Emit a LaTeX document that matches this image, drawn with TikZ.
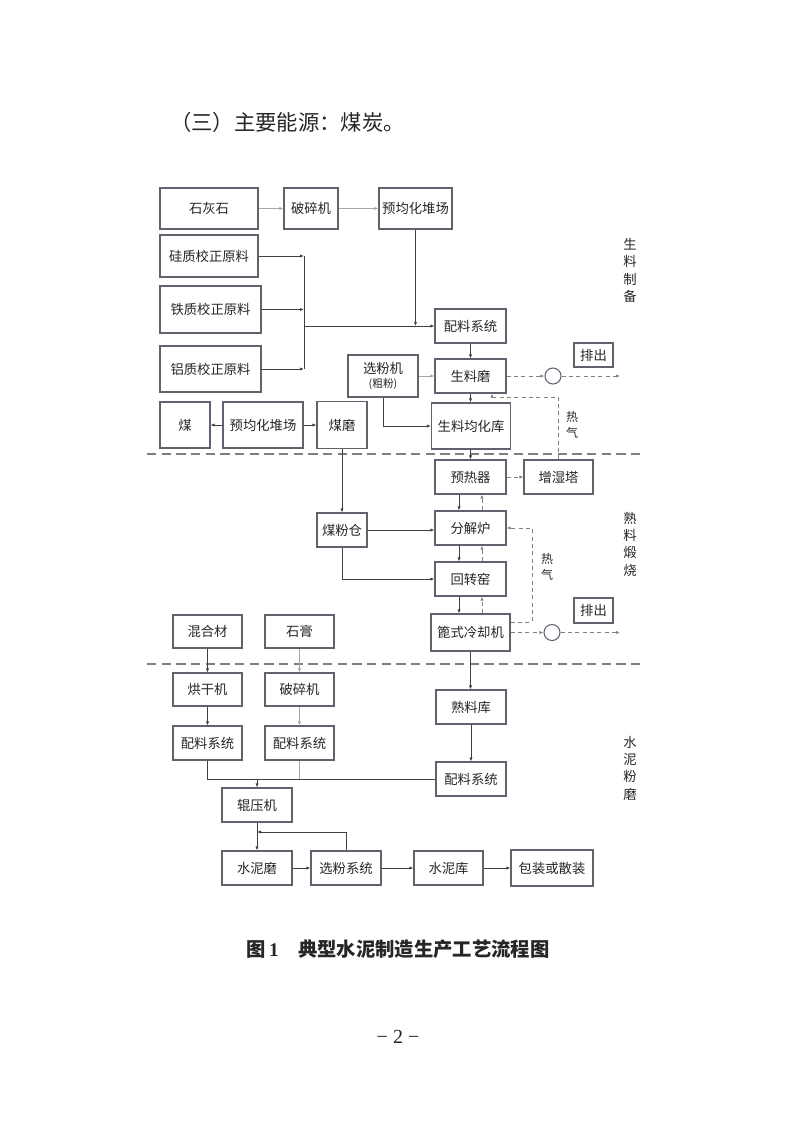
\documentclass[tikz,border=0pt]{standalone}
\usepackage{fontspec}
\setmainfont{Noto Sans CJK SC}
\newfontfamily\numfont{Liberation Serif}
\usetikzlibrary{arrows.meta}
\definecolor{boxc}{HTML}{5E636E}
\definecolor{txt}{HTML}{262626}
\definecolor{linec}{HTML}{404040}
\definecolor{lightc}{HTML}{A6A6A6}
\definecolor{dashc}{HTML}{808080}
\tikzset{
  box/.style={draw=boxc, line width=0.8pt, fill=white, inner sep=0pt, text=txt,
              font=\fontsize{10}{12}\selectfont, align=center},
  sz/.style 2 args={minimum width=#1, minimum height=#2},
  tip/.style={-{Latex[length=3pt,width=2.4pt]}},
  ln/.style={draw=linec, line width=0.7pt},
  arr/.style={ln, tip},
  larr/.style={draw=lightc, line width=0.6pt, tip},
  lln/.style={draw=lightc, line width=0.6pt},
  darr/.style={draw=dashc, line width=0.7pt, dash pattern=on 3pt off 2.5pt, tip},
  dln/.style={draw=dashc, line width=0.7pt, dash pattern=on 3pt off 2.5pt},
  sepline/.style={draw=dashc, line width=0.8pt, dash pattern=on 7pt off 4pt},
  side/.style={text=txt, font=\fontsize{10}{13}\selectfont, align=center, inner sep=0pt},
  gas/.style={text=txt, font=\fontsize{9}{12}\selectfont, align=center, inner sep=0pt},
  ring/.style={circle, draw=boxc, line width=0.8pt, fill=white, minimum size=12pt, inner sep=0pt}
}
\begin{document}
\begin{tikzpicture}[x=0.75pt,y=-0.75pt]
\useasboundingbox[fill=white] (0,0) rectangle (793,1122);

% heading
\node[anchor=west, text=txt, font=\fontsize{16}{16}\selectfont, inner sep=0pt] (head) at (170,122) {（三）主要能源：煤炭。};

% ---------- raw material preparation ----------
\node[box, sz={73.5pt}{30.75pt}] (lime) at (209,208.5) {石灰石};
\node[box, sz={40.5pt}{30.75pt}] (crushA) at (311,208.5) {破碎机};
\node[box, sz={54.75pt}{30.75pt}] (preA) at (415.5,208.5) {预均化堆场};
\node[box, sz={73.5pt}{31.5pt}] (si) at (209,256) {硅质校正原料};
\node[box, sz={75.75pt}{35.25pt}] (fe) at (210.5,309.5) {铁质校正原料};
\node[box, sz={75.75pt}{34.5pt}] (al) at (210.5,369) {铝质校正原料};
\node[box, sz={53.25pt}{25.5pt}] (mixA) at (470.5,326) {配料系统};
\node[box, sz={53.25pt}{25.5pt}] (rawmill) at (470.5,376) {生料磨};
\node[box, sz={52.5pt}{31.5pt}] (sep) at (383,376) {选粉机\\[-1pt]{\fontsize{8}{9}\selectfont (粗粉)}};
\node[box, sz={59.25pt}{34.5pt}] (homo) at (471,426) {生料均化库};
\node[box, sz={37.5pt}{34.5pt}] (coal) at (185,425) {煤};
\node[box, sz={60pt}{34.5pt}] (preB) at (263,425) {预均化堆场};
\node[box, sz={37.5pt}{35.25pt}] (coalmill) at (342,425) {煤磨};
\node[box, sz={29.25pt}{18pt}] (outA) at (593.5,355) {排出};
\node[ring] (ringA) at (553,376) {};
\coordinate (endA) at (620,376);

% ---------- clinker burning ----------
\node[box, sz={53.25pt}{25.5pt}] (preheat) at (470.5,477) {预热器};
\node[box, sz={51.75pt}{25.5pt}] (humid) at (558.5,477) {增湿塔};
\node[box, sz={53.25pt}{25.5pt}] (calc) at (470.5,528) {分解炉};
\node[box, sz={53.25pt}{25.5pt}] (kiln) at (470.5,579) {回转窑};
\node[box, sz={59.25pt}{27.75pt}] (cooler) at (470.5,632.5) {篦式冷却机};
\node[box, sz={37.5pt}{25.5pt}] (cbin) at (342,530) {煤粉仓};
\node[box, sz={29.25pt}{18.75pt}] (outB) at (593.5,610.5) {排出};
\node[ring] (ringB) at (552,632.5) {};
\coordinate (endB) at (620,632.5);

% ---------- cement grinding ----------
\node[box, sz={51.75pt}{24.75pt}] (blend) at (207.5,631.5) {混合材};
\node[box, sz={51.75pt}{24.75pt}] (gyp) at (299.5,631.5) {石膏};
\node[box, sz={51.75pt}{24.75pt}] (dryer) at (207.5,689.5) {烘干机};
\node[box, sz={51.75pt}{24.75pt}] (crushB) at (299.5,689.5) {破碎机};
\node[box, sz={51.75pt}{25.5pt}] (mixL) at (207.5,743) {配料系统};
\node[box, sz={51.75pt}{25.5pt}] (mixM) at (299.5,743) {配料系统};
\node[box, sz={52.5pt}{25.5pt}] (clinker) at (471,707) {熟料库};
\node[box, sz={52.5pt}{25.5pt}] (mixR) at (471,779) {配料系统};
\node[box, sz={52.5pt}{25.5pt}] (roller) at (257,805) {辊压机};
\node[box, sz={52.5pt}{25.5pt}] (cmill) at (257,868) {水泥磨};
\node[box, sz={52.5pt}{25.5pt}] (csep) at (346,868) {选粉系统};
\node[box, sz={51.75pt}{25.5pt}] (csilo) at (448.5,868) {水泥库};
\node[box, sz={61.5pt}{27pt}] (pack) at (552,868) {包装或散装};

% section separators
\coordinate (sA1) at (147,454); \coordinate (sA2) at (645,454);
\coordinate (sB1) at (147,664); \coordinate (sB2) at (645,664);
\draw[sepline] (sA1) -- (sA2);
\draw[sepline] (sB1) -- (sB2);

% side labels
\node[side] (labA) at (630,270.5) {生\\料\\制\\备};
\node[side] (labB) at (630,544) {熟\\料\\煅\\烧};
\node[side] (labC) at (630,768) {水\\泥\\粉\\磨};

% ---------- connectors: raw ----------
\draw[larr] (lime) -- (crushA);
\draw[larr] (crushA) -- (preA);
\coordinate (jv1) at (304,256);
\coordinate (jv2) at (304,309.5);
\coordinate (jv3) at (304,369);
\coordinate (jm) at (304,326);
\coordinate (jp) at (415.5,326);
\draw[arr] (si.east) -- (jv1);
\draw[arr] (fe.east) -- (jv2);
\draw[arr] (al.east) -- (jv3);
\draw[ln] (jv1) -- (jv3);
\draw[arr] (jm) -- (mixA.west);
\draw[arr] (preA.south) -- (jp);
\draw[arr] (mixA) -- (rawmill);
\draw[arr] (rawmill.south) -- (rawmill.south |- homo.north);
\draw[larr] (sep) -- (rawmill);
\draw[arr] (sep.south) |- (homo.west);
\draw[arr] (preB) -- (coal);
\draw[arr] (preB) -- (coalmill);
\draw[darr] (rawmill) -- (ringA);
\draw[darr] (ringA) -- (endA);
\coordinate (hA) at (492,397);
\draw[darr] (humid.north) |- (hA) -- (hA |- rawmill.south);
\node[gas] (gasA) at (572,425) {热\\气};

% ---------- connectors: clinker ----------
\draw[arr] (homo.south -| preheat) -- (preheat.north);
\draw[darr] (preheat) -- (humid);
\draw[arr] (coalmill) -- (cbin);
\draw[arr] (cbin.east) -- (cbin.east -| calc.west);
\draw[arr] (cbin.south) |- (kiln.west);
\draw[arr] ([xshift=-8.6pt]preheat.south) -- ([xshift=-8.6pt]calc.north);
\draw[darr] ([xshift=8.6pt]calc.north) -- ([xshift=8.6pt]preheat.south);
\draw[arr] ([xshift=-8.6pt]calc.south) -- ([xshift=-8.6pt]kiln.north);
\draw[darr] ([xshift=8.6pt]kiln.north) -- ([xshift=8.6pt]calc.south);
\draw[arr] ([xshift=-8.6pt]kiln.south) -- ([xshift=-8.6pt]cooler.north);
\draw[darr] ([xshift=8.6pt]cooler.north) -- ([xshift=8.6pt]kiln.south);
\coordinate (hB) at (532,622);
\draw[darr] (cooler.east |- hB) -- (hB) |- (calc.east);
\node[gas] (gasB) at (547,567) {热\\气};
\draw[darr] (cooler) -- (ringB);
\draw[darr] (ringB) -- (endB);

% ---------- connectors: cement ----------
\draw[arr] (blend) -- (dryer);
\draw[larr] (gyp) -- (crushB);
\draw[arr] (dryer) -- (mixL);
\draw[larr] (crushB) -- (mixM);
\draw[arr] (cooler.south) -- (cooler.south |- clinker.north);
\draw[arr] (clinker) -- (mixR);
\coordinate (jr) at (257,779);
\coordinate (jmM) at (299.5,779);
\draw[ln] (mixL.south) |- (mixR.west);
\draw[lln] (mixM.south) -- (jmM);
\draw[arr] (jr) -- (roller.north);
\draw[arr] (roller) -- (cmill);
\coordinate (jf) at (257,832);
\draw[arr] (csep.north) |- (jf);
\draw[arr] (cmill) -- (csep);
\draw[arr] (csep) -- (csilo);
\draw[arr] (csilo) -- (pack);

% caption and page number
\node[text=txt, font=\bfseries\fontsize{14.5}{15}\selectfont, inner sep=0pt] (cap) at (398,949) {图\,{\numfont 1}\quad 典型水泥制造生产工艺流程图};
\node[text=txt, font=\numfont\fontsize{15}{15}\selectfont, inner sep=0pt] (pg) at (398,1037) {− 2 −};
\end{tikzpicture}
\end{document}
